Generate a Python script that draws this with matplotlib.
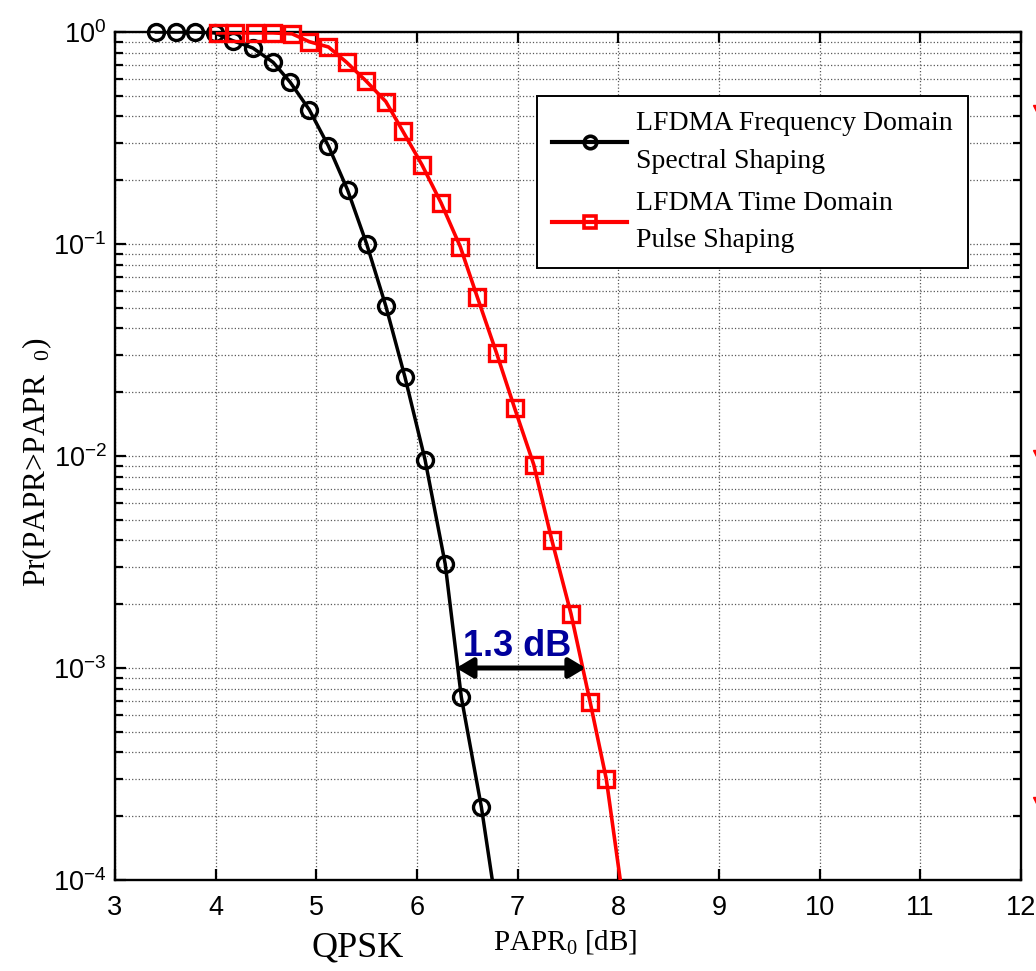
import numpy as np
import matplotlib
matplotlib.use("Agg")
import matplotlib.pyplot as plt
from matplotlib.lines import Line2D
from matplotlib.ticker import LogLocator, NullFormatter

plt.rcParams["font.family"] = ["Liberation Sans", "DejaVu Sans"]
plt.rcParams["mathtext.default"] = "regular"

# Data
fd_x = [3.41, 3.61, 3.79, 3.99, 4.17, 4.37, 4.57, 4.74, 4.93, 5.12, 5.31, 5.50,
        5.69, 5.88, 6.08, 6.28, 6.44, 6.64, 6.83]
fd_y = [1.0, 1.0, 1.0, 0.99, 0.91, 0.84, 0.72, 0.58, 0.43, 0.29, 0.18, 0.10,
        0.051, 0.0236, 0.0096, 0.0031, 7.3e-4, 2.2e-4, 5.5e-5]

td_x = [4.02, 4.19, 4.39, 4.57, 4.76, 4.93, 5.12, 5.30, 5.49, 5.69, 5.86, 6.05,
        6.24, 6.43, 6.60, 6.79, 6.97, 7.16, 7.34, 7.53, 7.72, 7.88, 8.07]
td_y = [0.99, 0.99, 0.99, 0.99, 0.98, 0.90, 0.85, 0.72, 0.59, 0.47, 0.34, 0.236,
        0.156, 0.097, 0.056, 0.0306, 0.0168, 0.0091, 0.0040, 0.0018, 6.9e-4,
        3.0e-4, 6.7e-5]

labels = ["LFDMA Frequency Domain\nSpectral Shaping",
          "LFDMA Time Domain\nPulse Shaping"]

gap_left, gap_right, gap_level = 6.39, 7.675, 1e-3
gap_text = "1.3 dB"

W, H = 1036, 971
fig = plt.figure(figsize=(W / 100, H / 100), dpi=100)
ax = fig.add_axes([115 / W, 1 - 880 / H, (1021 - 115) / W, (880 - 32) / H])

# lines are clipped at the axes, markers are not (the last point lies below 1e-4)
ax.plot(fd_x, fd_y, color="black", lw=2.5, zorder=3)
ax.plot(fd_x[:-1], fd_y[:-1], ls="none", color="black", marker="o", ms=11.5,
        mfc="none", mew=2.4, zorder=3, clip_on=False)
ax.plot(td_x, td_y, color="red", lw=2.6, zorder=4)
ax.plot(td_x[:-1], td_y[:-1], ls="none", color="red", marker="s", ms=11.5,
        mfc="none", mew=2.4, zorder=4, clip_on=False)

ax.set_yscale("log")
ax.set_xlim(3, 12)
ax.set_ylim(1e-4, 1)
ax.set_xticks(np.arange(3, 13))
ax.set_yticks([1e-4, 1e-3, 1e-2, 1e-1, 1])
ax.set_yticklabels([r"$10^{-4}$", r"$10^{-3}$", r"$10^{-2}$", r"$10^{-1}$", r"$10^{0}$"])
ax.yaxis.set_minor_locator(LogLocator(base=10, subs=np.arange(2, 10)))
ax.yaxis.set_minor_formatter(NullFormatter())

ax.tick_params(which="both", direction="in", top=True, right=True, width=1.6,
               colors="black", labelsize=19.5)
ax.tick_params(which="major", length=8)
ax.tick_params(which="minor", length=5.5)
ax.tick_params(axis="x", pad=11)
ax.tick_params(axis="y", pad=6)
for s in ax.spines.values():
    s.set_linewidth(1.7)

ax.grid(True, which="major", axis="both", ls=":", color="0.35", lw=0.9)
ax.grid(True, which="minor", axis="y", ls=":", color="0.35", lw=0.9)
ax.set_axisbelow(True)

# legend with smaller markers, like the reference
handles = [Line2D([], [], color="black", lw=3, marker="o", ms=9, mfc="none", mew=2.6),
           Line2D([], [], color="red", lw=3, marker="s", ms=9, mfc="none", mew=2.6)]
leg = fig.legend(handles, labels, loc="upper left",
                 bbox_to_anchor=(537 / W, 1 - 96 / H), borderaxespad=0,
                 prop={"family": "Liberation Serif", "size": 20},
                 fancybox=False, framealpha=1, edgecolor="black",
                 handlelength=2.7, handletextpad=0.32, labelspacing=0.62,
                 borderpad=0.55)
leg.get_frame().set_linewidth(1.4)
for t in leg.get_texts():
    t.set_linespacing(1.65)

# gap annotation
ax.annotate("", xy=(gap_left, gap_level), xytext=(gap_right, gap_level),
            arrowprops=dict(arrowstyle="<|-|>,head_length=0.5,head_width=0.3",
                            lw=3.6, color="black", shrinkA=0, shrinkB=0,
                            mutation_scale=20), zorder=5)
ax.text((gap_left + gap_right) / 2 - 0.04, 1.26e-3, gap_text, ha="center", va="center",
        fontsize=26, fontweight="bold", color="#00009c", zorder=6)

# axis labels
fig.text(37 / W, 1 - 462 / H, "Pr(PAPR>PAPR$_{\\ \\ 0}$)", rotation=90,
         ha="center", va="center", family="Liberation Serif", fontsize=22.5)
fig.text(565 / W, 1 - 942 / H, "PAPR$_0$ [dB]", ha="center", va="center",
         family="Liberation Serif", fontsize=21)
fig.text(358 / W, 1 - 948 / H, "QPSK", ha="center", va="center",
         family="Liberation Serif", fontsize=26)

# fragments of a neighbouring plot cut off at the right edge
for py in [113, 458, 805]:
    fig.add_artist(Line2D([1041 / W], [1 - py / H], transform=fig.transFigure,
                          marker="v", color="red", ms=11, ls="none"))

fig.savefig("out.png", dpi=100)
